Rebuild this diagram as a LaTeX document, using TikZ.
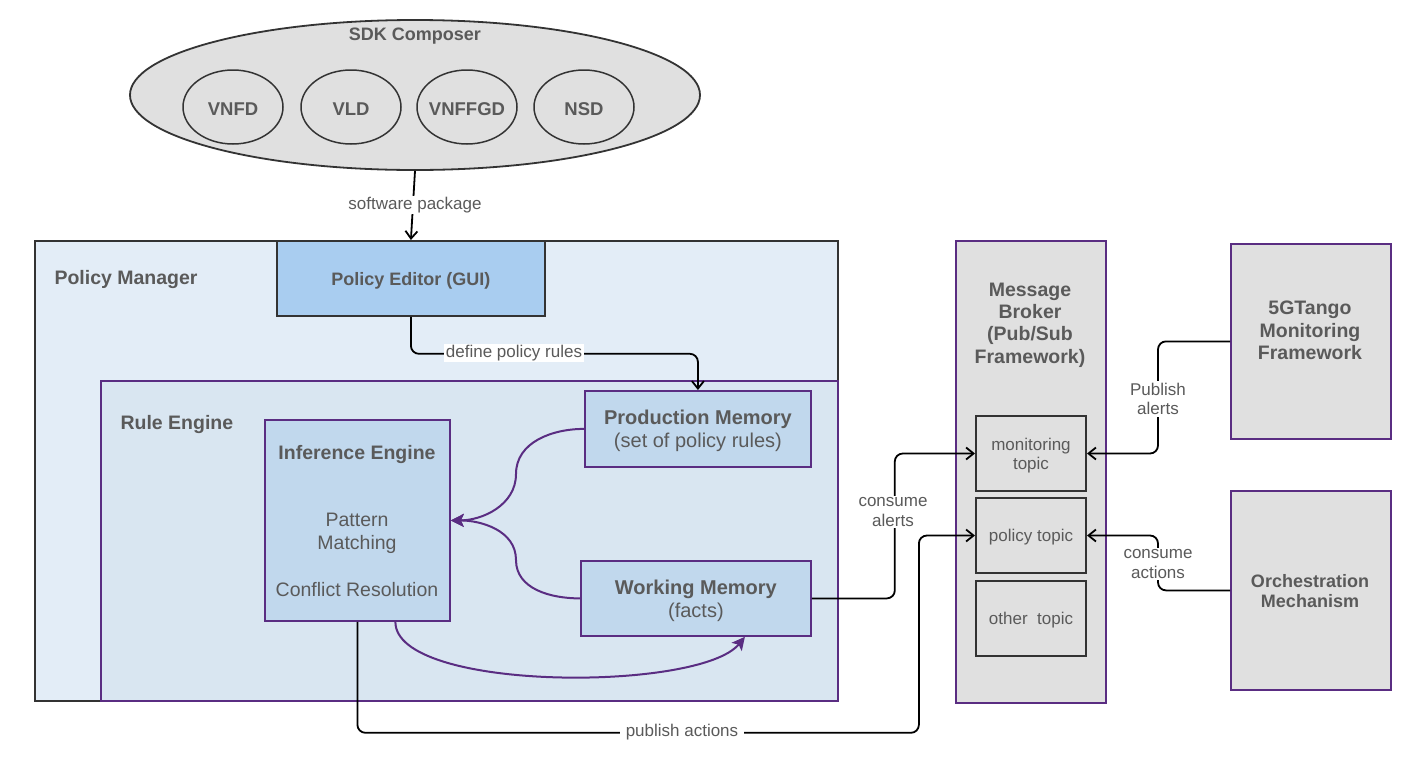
\documentclass[tikz,border=0pt]{standalone}
\usepackage{fontspec}
\setmainfont{Liberation Sans}
\usetikzlibrary{arrows.meta,shapes.geometric}
\definecolor{txt}{HTML}{5A5A5A}
\definecolor{purp}{HTML}{5A2D82}
\definecolor{dk}{HTML}{333333}
\definecolor{gbox}{HTML}{E0E0E0}
\definecolor{pmfill}{HTML}{E3EDF7}
\definecolor{refill}{HTML}{D9E6F1}
\definecolor{pefill}{HTML}{A9CDF0}
\definecolor{memfill}{HTML}{C1D8ED}
\newcommand{\fsz}[1]{\fontsize{#1}{\dimexpr #1pt*115/100\relax}\selectfont}
\tikzset{
  every node/.style={text=txt},
  container/.style={draw=dk, line width=1.8pt, anchor=north west, inner sep=0pt},
  purpbox/.style={draw=purp, line width=1.8pt, anchor=north west, inner sep=0pt, align=center},
  memfont/.style={font=\fsz{20}, align=center},
  topicbox/.style={draw=dk, line width=2pt, fill=gbox, anchor=north west, inner sep=0pt,
      minimum width=110pt, minimum height=75pt},
  topict/.style={align=center, font=\fsz{17}},
  circ/.style={ellipse, draw=dk, line width=1.5pt, fill=gbox, minimum width=100pt,
      minimum height=74pt, inner sep=0pt},
  circt/.style={font=\bfseries\fsz{18.5}},
  lbl/.style={fill=white, inner sep=1.5pt, align=center, font=\fsz{17}},
  conn/.style={draw=black, line width=1.8pt, rounded corners=8pt,
      -{Straight Barb[length=7.5pt,width=12pt,line width=1.8pt]}},
  pconn/.style={draw=purp, line width=2pt,
      -{Stealth[length=13pt,width=13pt,inset=3pt]}},
}
\begin{document}
\begin{tikzpicture}[x=1pt,y=-1pt]
\useasboundingbox (0,0) rectangle (1414,761);
\fill[white] (0,0) rectangle (1414,761);

% SDK composer
\node[ellipse, draw=dk, line width=1.8pt, fill=gbox, minimum width=570pt,
      minimum height=150pt, inner sep=0pt] (sdk) at (415,95) {};
\node[font=\bfseries\fsz{18}] (sdkt) at (415,36) {SDK Composer};
\node[circ] (vnfd) at (233,107) {};
\node[circ] (vld) at (351,107) {};
\node[circ] (vnffgd) at (467,107) {};
\node[circ] (nsd) at (584,107) {};
\node[circt] (vnfdt) at (233,109) {VNFD};
\node[circt] (vldt) at (351,109) {VLD};
\node[circt] (vnffgdt) at (467,109) {VNFFGD};
\node[circt] (nsdt) at (584,109) {NSD};

% Policy manager
\node[container, fill=pmfill, minimum width=803pt, minimum height=460pt] (pmgr) at (34,240) {};
\node[font=\bfseries\fsz{19.5}, anchor=west] (pmgrt) at (51,279) {Policy Manager};
\node[container, fill=pefill, minimum width=268pt, minimum height=75pt] (pe) at (276,240) {};
\node[font=\bfseries\fsz{18}] (pet) at ([yshift=-2pt]pe.center) {Policy Editor (GUI)};

% Rule engine
\node[purpbox, fill=refill, minimum width=737pt, minimum height=320pt] (re) at (100,380) {};
\node[font=\bfseries\fsz{19.5}, anchor=west] (ret) at (117,424) {Rule Engine};

\node[purpbox, fill=memfill, minimum width=226pt, minimum height=76pt] (pm) at (584,390) {};
\node[memfont] (pmt) at ([yshift=-2pt]pm.center) {\textbf{Production Memory}\\(set of policy rules)};
\node[purpbox, fill=memfill, minimum width=230pt, minimum height=75pt] (wm) at (580,560) {};
\node[memfont] (wmt) at ([yshift=-2pt]wm.center) {\textbf{Working Memory}\\(facts)};
\node[purpbox, fill=memfill, minimum width=185pt, minimum height=201pt] (ie) at (264,419) {};
\node[font=\bfseries\fsz{19.5}] (iet) at (357,454) {Inference Engine};
\node[font=\fsz{19.5}, align=center] (iepm) at (357,533.5) {Pattern\\Matching};
\node[font=\fsz{19.5}] (iecr) at (357,590) {Conflict Resolution};

% Message broker
\node[purpbox, fill=gbox, minimum width=150pt, minimum height=462pt] (mb) at (955,240) {};
\node[font=\bfseries\fsz{19.5}, align=center] (mbt) at (1030,325)
   {Message\\Broker\\(Pub/Sub\\Framework)};
\node[topicbox] (mt) at (975,415) {};
\node[topicbox] (pt) at (975,497) {};
\node[topicbox] (ot) at (975,580) {};
\node[topict] (mtt) at ([yshift=-2pt]mt.center) {monitoring\\topic};
\node[topict] (ptt) at ([yshift=-2pt]pt.center) {policy topic};
\node[topict] (ott) at ([yshift=-2pt]ot.center) {other~ topic};

% Right boxes
\node[purpbox, fill=gbox, minimum width=160pt, minimum height=195pt] (tango) at (1230,243) {};
\node[font=\bfseries\fsz{19.5}, align=center] (tangot) at (1310,330.5)
   {5GTango\\Monitoring\\Framework};
\node[purpbox, fill=gbox, minimum width=160pt, minimum height=199pt] (orch) at (1230,490) {};
\node[font=\bfseries\fontsize{18}{20}\selectfont, align=center] (orcht) at (1310,591.5) {Orchestration\\Mechanism};

% Connectors
\draw[conn] (sdk.south) -- (pe.north);
\node[lbl] (lsp) at (415,205) {software package};

\draw[conn] (pe.south) -- ++(0,37) -| (pm.north);
\node[lbl] (ldp) at (514,353) {define policy rules};

\draw[pconn] (pm.west) to[out=180,in=90] (516,474) to[out=-90,in=0] (ie.east);
\draw[pconn] (wm.west) to[out=180,in=-90] (516,560) to[out=90,in=0] (ie.east);
\draw[pconn] ([xshift=38pt]ie.south) .. controls (395,692) and (700,692) .. ([xshift=49pt]wm.south);

\draw[conn] (wm.east) -- ++(83,0) |- (mt.west);
\node[lbl] (lca) at (893,512) {consume\\alerts};

\draw[conn] (ie.south) -- ++(0,111) -- ++(561.5,0) |- (pt.west);
\node[lbl, inner xsep=6pt] (lpa) at (682,732) {publish actions};

\draw[conn] (tango.west) -- ++(-72,0) |- (mt.east);
\node[lbl] (lpal) at (1158,399) {Publish\\alerts};

\draw[conn] (orch.west) -- ++(-72,0) |- (pt.east);
\node[lbl] (lcac) at (1158,564) {consume\\actions};
\end{tikzpicture}
\end{document}
